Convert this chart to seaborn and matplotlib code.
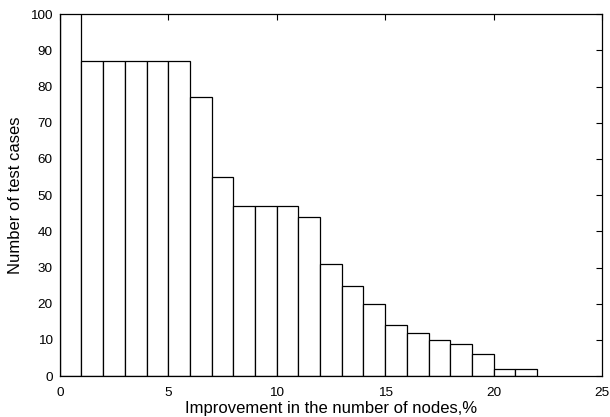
import numpy as np
import matplotlib
matplotlib.use("Agg")
import matplotlib.pyplot as plt
import seaborn as sns

sns.set_theme(style="white")
plt.rcParams['font.family'] = ['Liberation Sans', 'DejaVu Sans']

# data: bin centers (improvement %) and number of test cases
improvement = [0.5, 1.5, 2.5, 3.5, 4.5, 5.5, 6.5, 7.5, 8.5, 9.5, 10.5,
               11.5, 12.5, 13.5, 14.5, 15.5, 16.5, 17.5, 18.5, 19.5, 20.5, 21.5]
counts = [110, 87, 87, 87, 87, 87, 77, 55, 47, 47, 47,
          44, 31, 25, 20, 14, 12, 10, 9, 6, 2, 2]
bin_edges = list(range(0, 23))
xticks = [0, 5, 10, 15, 20, 25]
yticks = [0, 10, 20, 30, 40, 50, 60, 70, 80, 90, 100]

fig = plt.figure(figsize=(6.1, 4.17), dpi=100)
ax = fig.add_axes([0.098, 0.098, 0.889, 0.868])

sns.histplot(x=improvement, weights=counts, bins=bin_edges, ax=ax,
             color="white", edgecolor="black", linewidth=0.9, alpha=1)

ax.set_xlim(0, 25)
ax.set_ylim(0, 100)
ax.set_xticks(xticks)
ax.set_yticks(yticks)
ax.tick_params(direction="in", length=4, width=0.8, top=True, right=True,
               labelsize=9.7, colors="black", labelcolor="black", pad=5)
ax.tick_params(axis="x", pad=8)
for s in ax.spines.values():
    s.set_visible(True)
    s.set_color("black")
    s.set_linewidth(0.9)
ax.set_xlabel("Improvement in the number of nodes,%", fontsize=12,
              labelpad=1, color="black")
ax.set_ylabel("Number of test cases", fontsize=12, labelpad=5, color="black")
ax.grid(False)

fig.savefig("out.png", dpi=100)
